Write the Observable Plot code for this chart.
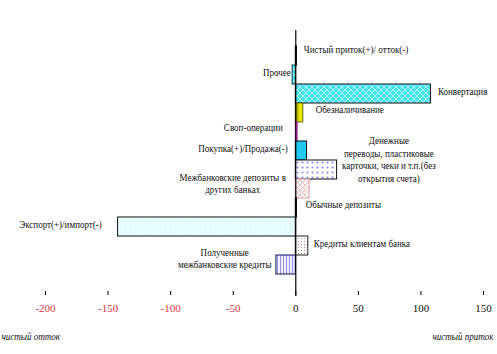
<!DOCTYPE html>
<html>
<head>
<meta charset="utf-8">
<script src="https://cdn.jsdelivr.net/npm/d3@7"></script>
<script src="https://cdn.jsdelivr.net/npm/@observablehq/plot@0.6"></script>
<style>
  html, body { margin: 0; padding: 0; background: #fff; }
  #chart { width: 497px; height: 354px; }
  #chart svg, #chart svg text { font-family: "Liberation Serif", "Times New Roman", serif; }
</style>
</head>
<body>
<div id="chart"></div>
<script>
// ---- data ----
const categories = [
  "Чистый приток(+)/ отток(-)",
  "Прочее",
  "Конвертация",
  "Обезналичивание",
  "Своп-операции",
  "Покупка(+)/Продажа(-)",
  "Денежные переводы, пластиковые карточки, чеки и т.п.(без открытия счета)",
  "Межбанковские депозиты в других банках",
  "Обычные депозиты",
  "Экспорт(+)/импорт(-)",
  "Кредиты клиентам банка",
  "Полученные межбанковские кредиты"
];
const values = [1, -2.5, 108, 6, 1.5, 9, 33, 11, 1, -142, 10, -15.5];
const labelLines = [
  "Чистый приток(+)/ отток(-)",
  "Прочее",
  "Конвертация",
  "Обезналичивание",
  "Своп-операции",
  "Покупка(+)/Продажа(-)",
  "Денежные\nпереводы, пластиковые\nкарточки, чеки и т.п.(без\nоткрытия счета)",
  "Межбанковские депозиты в\nдругих банках",
  "Обычные депозиты",
  "Экспорт(+)/импорт(-)",
  "Кредиты клиентам банка",
  "Полученные\nмежбанковские кредиты"
];
const xTicks = [-200, -150, -100, -50, 0, 50, 100, 150];
const xDomain = [-200, 150];
const sideLabels = ["чистый отток", "чистый приток"];

// ---- styles / layout (kept apart from data) ----
const barFill = ["#111", "url(#pConv)", "url(#pConv)", "url(#gYel)", "#cc44cc", "#1ec8ee",
                 "url(#pDotsBlue)", "url(#pHatch)", "#111", "url(#pGrid)", "url(#pDotsRed)", "url(#pVert)"];
const barStroke = ["#111", "#0a3a40", "#111", "#6a6a00", "#bb33bb", "#111",
                   "#111", "#e0a0a0", "#111", "#111", "#222", "#101060"];
const labelLayout = [
  {x: 6.4,   anchor: "start",  dy: -7},
  {x: -4,    anchor: "end",    dy: -3},
  {x: 113.6, anchor: "start",  dy: -3},
  {x: 16,    anchor: "start",  dy: -4},
  {x: -10.4, anchor: "end",    dy: -5},
  {x: -6.4,  anchor: "end",    dy: -3},
  {x: 74.4,  anchor: "middle", dy: -11},
  {x: -50.4, anchor: "middle", dy: -6},
  {x: 8,     anchor: "start",  dy: -4},
  {x: -155,  anchor: "end",    dy: -3},
  {x: 14.4,  anchor: "start",  dy: -3},
  {x: -56.8, anchor: "middle", dy: -7}
];
const textSqueeze = 0.86;

const rows = categories.map((c, i) => ({cat: c, value: values[i], fill: barFill[i], stroke: barStroke[i]}));
const font = "Liberation Serif";

const labelMarks = categories.map((c, i) => Plot.text([rows[i]], {
  x: () => labelLayout[i].x,
  y: "cat",
  text: () => labelLines[i],
  textAnchor: labelLayout[i].anchor,
  dy: labelLayout[i].dy,
  lineAnchor: "middle",
  lineHeight: 1.2,
  fontSize: 10.5,
  fontFamily: font,
  fill: "#111"
}));

const chart = Plot.plot({
  width: 497,
  height: 354,
  marginTop: 30,
  marginBottom: 63,
  marginLeft: 45,
  marginRight: 14,
  style: {fontFamily: font, fontSize: "10px", background: "#fff", color: "#000"},
  color: {type: "identity"},
  x: {domain: xDomain, axis: null},
  y: {domain: categories, padding: 0, insetTop: 13, insetBottom: 14, axis: null},
  marks: [
    Plot.barX(rows, {x: "value", y: "cat", fill: "fill", stroke: "stroke", strokeWidth: 1}),
    Plot.ruleX([0], {stroke: "#000", strokeWidth: 1.2, insetBottom: -5}),
    Plot.axisX({ticks: xTicks, tickSize: 4, tickFormat: () => "", line: true, label: null, stroke: "#000", anchor: "bottom"}),
    Plot.text(xTicks.filter(d => d < 0), {x: d => d, frameAnchor: "bottom", dy: 20, text: d => String(d), fill: "#e8373c", fontSize: 11, fontFamily: font}),
    Plot.text(xTicks.filter(d => d >= 0), {x: d => d, frameAnchor: "bottom", dy: 20, text: d => String(d), fill: "#111", fontSize: 11, fontFamily: font}),
    Plot.text([sideLabels[0]], {frameAnchor: "bottom-left", dx: -44, dy: 48, textAnchor: "start", text: d => d, fontStyle: "italic", fontSize: 10.5, fontFamily: font, fill: "#111"}),
    Plot.text([sideLabels[1]], {frameAnchor: "bottom-right", dx: 10, dy: 48, textAnchor: "end", text: d => d, fontStyle: "italic", fontSize: 10.5, fontFamily: font, fill: "#111"}),
    ...labelMarks
  ]
});

// narrow the annotation text like the original condensed serif
d3.select(chart).selectAll("text").each(function() {
  const t = this.textContent;
  if (/^-?\d+$/.test(t)) return;
  const tr = this.getAttribute("transform") || "";
  this.setAttribute("transform", (tr + ` scale(${textSqueeze},1)`).trim());
});

d3.select(chart).insert("defs", ":first-child").html(`
  <pattern id="pConv" width="6" height="6" patternUnits="userSpaceOnUse">
    <rect width="6" height="6" fill="#46e2ee"/>
    <path d="M0 3 L3 0 L6 3 L3 6 Z" fill="none" stroke="#c4f8fc" stroke-width="0.8"/>
  </pattern>
  <linearGradient id="gYel" x1="0" x2="1" y1="0" y2="0">
    <stop offset="0" stop-color="#7a7a00"/>
    <stop offset="0.55" stop-color="#e6e600"/>
    <stop offset="1" stop-color="#f2f020"/>
  </linearGradient>
  <pattern id="pDotsBlue" width="5" height="5" patternUnits="userSpaceOnUse">
    <rect width="5" height="5" fill="#fff"/>
    <circle cx="2.5" cy="2.5" r="1.1" fill="#8c8cf4"/>
  </pattern>
  <pattern id="pHatch" width="5" height="5" patternUnits="userSpaceOnUse">
    <rect width="5" height="5" fill="#fff"/>
    <path d="M0 5 L5 0 M0 0 L5 5" stroke="#f0a8a8" stroke-width="0.8"/>
  </pattern>
  <pattern id="pGrid" width="5" height="5" patternUnits="userSpaceOnUse">
    <rect width="5" height="5" fill="#eaffff"/>
    <path d="M0 0 H5 M0 0 V5" stroke="#c8f2f2" stroke-width="0.6"/>
  </pattern>
  <pattern id="pDotsRed" width="3" height="3" patternUnits="userSpaceOnUse">
    <rect width="3" height="3" fill="#fff"/>
    <circle cx="1.5" cy="1.5" r="0.55" fill="#d07070"/>
  </pattern>
  <pattern id="pVert" width="3" height="3" patternUnits="userSpaceOnUse">
    <rect width="3" height="3" fill="#efefff"/>
    <path d="M1.5 0 V3" stroke="#7c7ce0" stroke-width="0.8"/>
  </pattern>
`);

document.getElementById("chart").appendChild(chart);
</script>
</body>
</html>
